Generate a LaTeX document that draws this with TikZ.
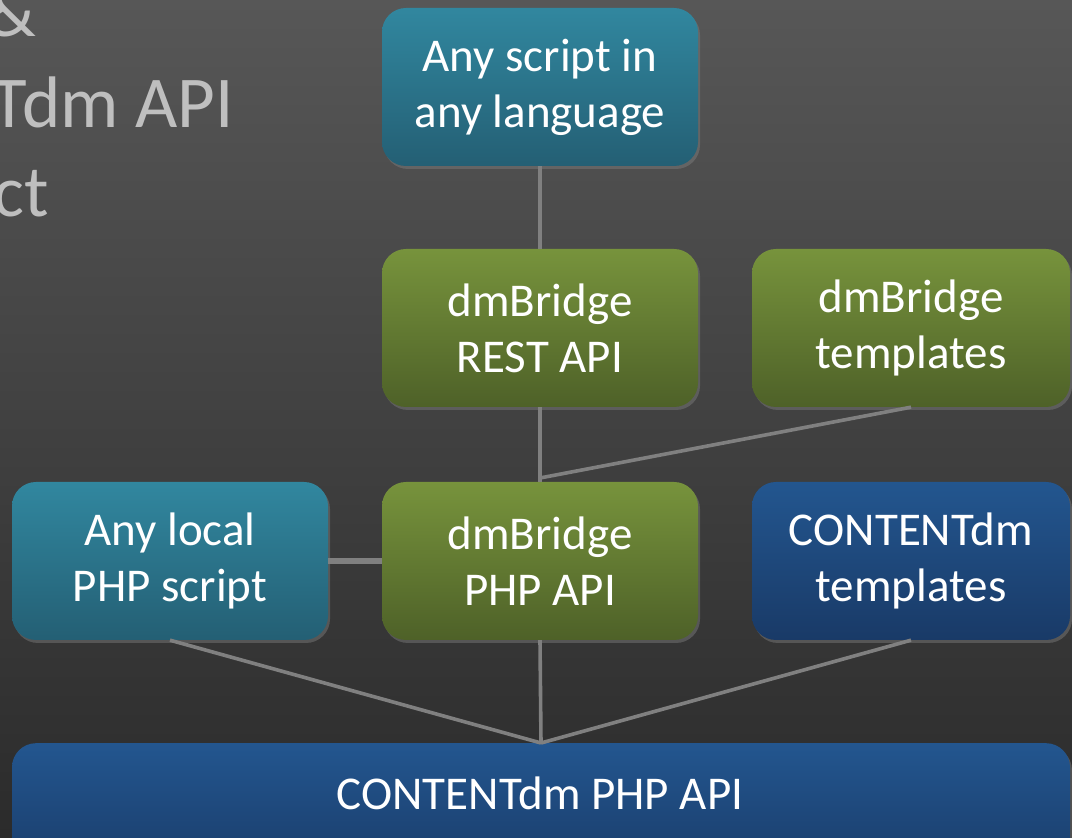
\documentclass[tikz,border=0pt]{standalone}
\usepackage{fontspec}
\setmainfont{Carlito}
\usetikzlibrary{shadows}
\definecolor{bgtop}{HTML}{575757}
\definecolor{bgbot}{HTML}{2B2B2B}
\definecolor{tealtop}{HTML}{31879F}
\definecolor{tealbot}{HTML}{245F74}
\definecolor{greentop}{HTML}{77933C}
\definecolor{greenbot}{HTML}{4E6128}
\definecolor{bluetop}{HTML}{23568F}
\definecolor{bluebot}{HTML}{193A67}
\definecolor{linec}{HTML}{808080}
\definecolor{titlec}{HTML}{BFBFBF}
\tikzset{
  x=1pt, y=1pt,
  boxbase/.style={rounded corners=24pt, minimum width=316pt, minimum height=158pt, inner sep=0pt,
    text=white, align=center, font=\fontsize{47}{56}\selectfont,
    drop shadow={opacity=0.45, shadow xshift=2pt, shadow yshift=-3pt}},
  tealbox/.style={boxbase, top color=tealtop, bottom color=tealbot},
  greenbox/.style={boxbase, top color=greentop, bottom color=greenbot},
  bluebox/.style={boxbase, top color=bluetop, bottom color=bluebot},
  conn/.style={draw=linec, line width=3.6pt},
  titletext/.style={text=titlec, font=\fontsize{73}{89}\selectfont, inner sep=0pt, anchor=base east},
}
\begin{document}
\begin{tikzpicture}
\useasboundingbox (0,0) rectangle (1072,838);
\clip (0,0) rectangle (1072,838);
\shade[top color=bgtop, bottom color=bgbot] (0,0) rectangle (1072,838);
% title fragments
\node[titletext] (t1) at (36,801) {\&};
\node[titletext] (t2) at (234,710) {Tdm API};
\node[titletext] (t3) at (49,621) {ct};
% boxes
\node[tealbox] (any) at (540,751) {Any script in\\any language};
\node[greenbox] (rest) at (540,510) {dmBridge\\REST API};
\node[greenbox, minimum width=318pt] (tpl) at (911,510) {dmBridge\\templates};
\node[tealbox] (local) at (170,277) {Any local\\PHP script};
\node[greenbox] (php) at (540,277) {dmBridge\\PHP API};
\node[bluebox, minimum width=318pt] (ctpl) at (911,277) {CONTENTdm\\templates};
\node[bluebox, minimum width=1058pt, minimum height=140pt, anchor=north] (api) at (541,95) {};
\node[text=white, font=\fontsize{47}{56}\selectfont, inner sep=0pt] (apitext) at (540,45) {CONTENTdm PHP API};
% connectors
\draw[conn] (any.south) -- (rest.north);
\coordinate (j) at (540,360);
\draw[conn] (rest.south) -- (j);
\draw[conn] (tpl.south) -- (j);
\draw[conn] (j) -- (php.north);
\draw[conn, line width=5.5pt] (local.east) -- (php.west);
\draw[conn] (local.south) -- (api.north);
\draw[conn] (php.south) -- (api.north);
\draw[conn] (ctpl.south) -- (api.north);
\end{tikzpicture}
\end{document}
